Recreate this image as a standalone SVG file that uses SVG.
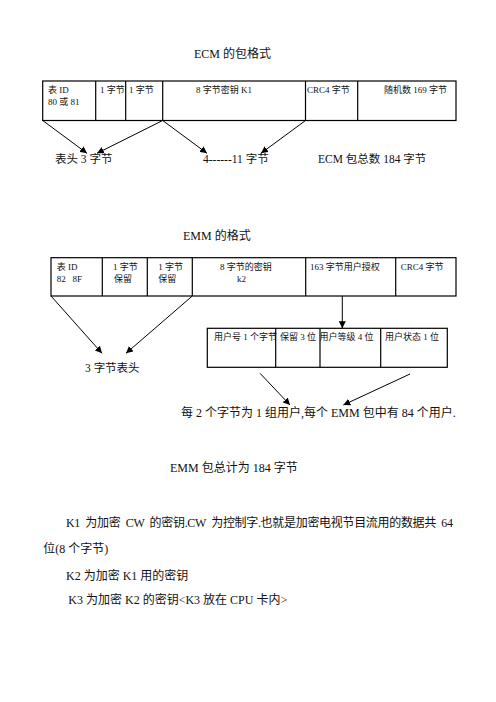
<svg xmlns="http://www.w3.org/2000/svg" width="496" height="702" viewBox="0 0 496 702">
<defs>
<marker id="ah" viewBox="0 0 10 10" refX="10" refY="5" markerWidth="7" markerHeight="7" markerUnits="userSpaceOnUse" orient="auto">
<path d="M0,0 L10,5 L0,10 Z" fill="#000"/>
</marker>
<style>
text{font-family:"Liberation Serif","Noto Sans CJK SC",serif;fill:#111;}
.t{font-size:12px;}
.c{font-size:9px;}
.l{font-size:11.5px;}
.b{font-size:12px;}
.box{fill:#fff;stroke:#000;stroke-width:1.2;}
.div{stroke:#000;stroke-width:1.2;}
.con line{stroke:#000;stroke-width:1;marker-end:url(#ah);}
</style>
</defs>
<rect width="496" height="702" fill="#fff"/>

<g id="ecm-title"><text class="t" x="194" y="58">ECM 的包格式</text></g>

<g id="ecm-table">
<rect class="box" x="42.7" y="81" width="413.3" height="39.5"/>
<line class="div" x1="95.7" y1="81" x2="95.7" y2="120.5"/>
<line class="div" x1="125.7" y1="81" x2="125.7" y2="120.5"/>
<line class="div" x1="162.7" y1="81" x2="162.7" y2="120.5"/>
<line class="div" x1="305.5" y1="81" x2="305.5" y2="120.5"/>
<line class="div" x1="357.7" y1="81" x2="357.7" y2="120.5"/>
<text class="c" x="48" y="93">表 ID</text>
<text class="c" x="48" y="105">80 或 81</text>
<text class="c" x="100" y="93">1 字节</text>
<text class="c" x="129" y="93">1 字节</text>
<text class="c" x="196" y="93">8 字节密钥 K1</text>
<text class="c" x="307" y="93">CRC4 字节</text>
<text class="c" x="384" y="93">随机数 169 字节</text>
</g>

<g id="ecm-labels">
<text class="l" x="55" y="163">表头 3 字节</text>
<text class="l" x="203" y="163">4------11 字节</text>
<text class="l" x="318" y="163">ECM 包总数 184 字节</text>
</g>

<g id="emm-title"><text class="t" x="183" y="240">EMM 的格式</text></g>

<g id="emm-table">
<rect class="box" x="51" y="257.7" width="405" height="38.3"/>
<line class="div" x1="102.3" y1="257.7" x2="102.3" y2="296"/>
<line class="div" x1="147.3" y1="257.7" x2="147.3" y2="296"/>
<line class="div" x1="192.3" y1="257.7" x2="192.3" y2="296"/>
<line class="div" x1="305.7" y1="257.7" x2="305.7" y2="296"/>
<line class="div" x1="395.7" y1="257.7" x2="395.7" y2="296"/>
<text class="c" x="56.7" y="270">表 ID</text>
<text class="c" x="56.7" y="282" xml:space="preserve">82   8F</text>
<text class="c" x="113" y="270">1 字节</text>
<text class="c" x="114" y="282">保留</text>
<text class="c" x="158.3" y="270">1 字节</text>
<text class="c" x="158.3" y="282">保留</text>
<text class="c" x="220" y="270">8 字节的密钥</text>
<text class="c" x="237" y="282">k2</text>
<text class="c" x="310" y="270">163 字节用户授权</text>
<text class="c" x="400.7" y="270">CRC4 字节</text>
</g>

<g id="user-table">
<rect class="box" x="207.3" y="328.3" width="240" height="39"/>
<line class="div" x1="275.7" y1="328.3" x2="275.7" y2="367.3"/>
<line class="div" x1="320" y1="328.3" x2="320" y2="367.3"/>
<line class="div" x1="380.7" y1="328.3" x2="380.7" y2="367.3"/>
<text class="c" x="214" y="340">用户号 1 个字节</text>
<text class="c" x="280" y="340">保留 3 位</text>
<text class="c" x="319.5" y="340">用户等级 4 位</text>
<text class="c" x="385" y="340">用户状态 1 位</text>
</g>

<g id="emm-labels">
<text class="l" x="85" y="372">3 字节表头</text>
<text class="b" x="181" y="417">每 2 个字节为 1 组用户,每个 EMM 包中有 84 个用户.</text>
<text class="b" x="170" y="472">EMM 包总计为 184 字节</text>
</g>

<g id="notes">
<text class="b" x="66" y="527" textLength="387" lengthAdjust="spacing" xml:space="preserve">K1  为加密  CW  的密钥.CW  为控制字.也就是加密电视节目流用的数据共  64</text>
<text class="b" x="43.3" y="553">位(8 个字节)</text>
<text class="b" x="66" y="580">K2 为加密 K1 用的密钥</text>
<text class="b" x="68.3" y="604">K3 为加密 K2 的密钥&lt;K3 放在 CPU 卡内&gt;</text>
</g>

<g id="connectors" class="con">
<line x1="42.7" y1="120.5" x2="87" y2="153.3"/>
<line x1="162.7" y1="120.5" x2="97" y2="153.3"/>
<line x1="162.7" y1="120.5" x2="207" y2="153.3"/>
<line x1="305.5" y1="120.5" x2="261" y2="153.3"/>
<line x1="51" y1="296" x2="102" y2="353.3"/>
<line x1="192.3" y1="296" x2="126" y2="353.3"/>
<line x1="342.3" y1="296" x2="342.3" y2="328.3"/>
<line x1="260" y1="373.3" x2="290" y2="405"/>
<line x1="410" y1="374" x2="343.3" y2="405"/>
</g>
</svg>
